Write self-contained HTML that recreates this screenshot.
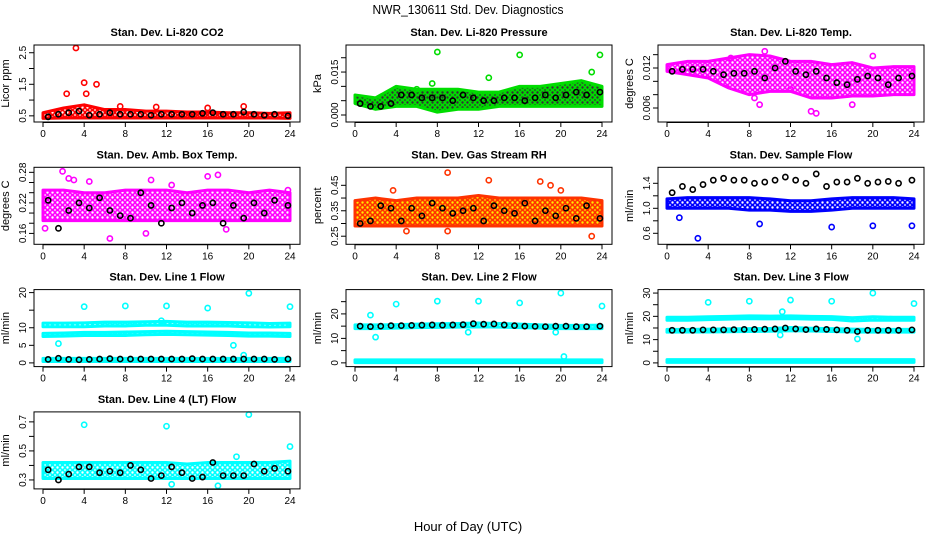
<!DOCTYPE html>
<html><head><meta charset="utf-8">
<style>
body{margin:0;background:#fff;}
svg{display:block;font-family:"Liberation Sans",sans-serif;}
</style></head>
<body>
<svg id="chart" width="936" height="540" viewBox="0 0 936 540" xmlns="http://www.w3.org/2000/svg">
<defs id="defs"></defs>
<text x="468" y="14" font-size="13" text-anchor="middle" transform="translate(468,0) scale(0.92,1) translate(-468,0)">NWR_130611  Std. Dev. Diagnostics</text>
<text x="468" y="531" font-size="13" text-anchor="middle">Hour of Day (UTC)</text>
<g id="panels"></g>
</svg>
<script>
// ---- data (band edges every 2 h, hours 0..24) ----
const bandHours = [0,2,4,6,8,10,12,14,16,18,20,22,24];
const blackHours = [0.5,1.5,2.5,3.5,4.5,5.5,6.5,7.5,8.5,9.5,10.5,11.5,12.5,13.5,14.5,15.5,16.5,17.5,18.5,19.5,20.5,21.5,22.5,23.8];
const xTicks = [0,4,8,12,16,20,24];

const co2Lo = [0.42,0.43,0.43,0.43,0.43,0.43,0.43,0.43,0.43,0.43,0.43,0.43,0.42];
const co2Hi = [0.6,0.75,0.85,0.7,0.7,0.65,0.65,0.62,0.62,0.6,0.6,0.58,0.6];
const co2Out = [[3.2,2.65],[4.0,1.55],[4.2,1.2],[5.2,1.5],[2.3,1.2],[7.5,0.8],[11,0.78],[19.5,0.8],[16,0.75]];
const co2Black = [0.47,0.55,0.6,0.65,0.52,0.55,0.6,0.55,0.55,0.55,0.52,0.55,0.55,0.55,0.55,0.58,0.6,0.55,0.55,0.62,0.55,0.52,0.55,0.5];

const presLo = [0.004,0.002,0.003,0.003,0.001,0.002,0.002,0.003,0.003,0.003,0.003,0.003,0.003];
const presHi = [0.007,0.006,0.01,0.009,0.009,0.009,0.008,0.008,0.01,0.01,0.011,0.012,0.010];
const presOut = [[8,0.022],[16,0.021],[23.8,0.021],[13,0.013],[7.5,0.011],[23,0.015],[6,0.009]];
const presBlack = [0.004,0.003,0.003,0.004,0.007,0.007,0.006,0.006,0.006,0.005,0.007,0.006,0.005,0.005,0.006,0.006,0.005,0.006,0.007,0.006,0.007,0.008,0.007,0.008];

const tempLo = [0.0115,0.011,0.0105,0.009,0.008,0.0085,0.0085,0.0075,0.0075,0.0078,0.0078,0.008,0.008];
const tempHi = [0.0125,0.013,0.013,0.0135,0.014,0.0138,0.013,0.013,0.0125,0.0128,0.012,0.0122,0.0122];
const tempOut = [[9,0.0065],[14,0.0055],[14.5,0.0052],[18,0.0065],[20,0.0138],[9.5,0.0145],[6.2,0.0135],[12,0.0088],[8.5,0.0075]];
const tempBlack = [0.0115,0.0118,0.0118,0.0118,0.0115,0.011,0.0112,0.0112,0.0115,0.0105,0.012,0.013,0.0115,0.011,0.0115,0.0105,0.0098,0.0095,0.0103,0.0108,0.0105,0.0095,0.0105,0.0108];

const boxLo = [0.185,0.185,0.185,0.185,0.185,0.185,0.185,0.185,0.185,0.185,0.185,0.185,0.185];
const boxHi = [0.245,0.245,0.24,0.24,0.245,0.245,0.245,0.24,0.245,0.245,0.24,0.245,0.24];
const boxOut = [[1.9,0.282],[2.5,0.268],[3,0.265],[4.5,0.262],[6.5,0.15],[10.5,0.265],[12.5,0.255],[16,0.272],[17,0.275],[17.8,0.168],[23.8,0.245],[0.2,0.17],[10,0.16]];
const boxBlack = [0.225,0.17,0.205,0.22,0.21,0.23,0.205,0.195,0.19,0.24,0.215,0.18,0.21,0.22,0.2,0.215,0.22,0.18,0.215,0.19,0.22,0.2,0.225,0.215];

const rhLo = [0.29,0.29,0.29,0.29,0.29,0.29,0.29,0.29,0.29,0.29,0.29,0.29,0.29];
const rhHi = [0.39,0.4,0.39,0.4,0.4,0.4,0.41,0.4,0.4,0.4,0.4,0.4,0.39];
const rhOut = [[9,0.5],[13,0.47],[18,0.465],[20,0.43],[3.7,0.43],[23,0.25],[5,0.27],[9,0.27],[19,0.45]];
const rhBlack = [0.3,0.31,0.37,0.36,0.31,0.36,0.33,0.38,0.36,0.34,0.35,0.36,0.31,0.37,0.35,0.34,0.38,0.31,0.35,0.33,0.36,0.32,0.37,0.32];

const flowLo = [1.0,1.0,1.0,1.0,0.97,0.97,0.95,0.95,0.97,1.0,1.0,1.0,1.0];
const flowHi = [1.15,1.17,1.17,1.17,1.17,1.15,1.12,1.12,1.15,1.17,1.17,1.17,1.15];
const flowOut = [[3,0.52],[16,0.7],[20,0.72],[23.8,0.72],[9,0.75],[1.2,0.85]];
const flowBlack = [1.25,1.35,1.3,1.38,1.45,1.48,1.45,1.45,1.4,1.42,1.45,1.5,1.45,1.4,1.55,1.35,1.42,1.42,1.48,1.4,1.42,1.43,1.4,1.45];

const l1Lo = [10.3,10.3,10.3,10.5,10.5,10.7,10.7,10.5,10.5,10.5,10.3,10.2,10.3];
const l1Hi = [11.3,11.3,11.4,11.6,11.6,11.7,11.8,11.6,11.6,11.5,11.4,11.2,11.3];
const l1Lo2 = [7.5,7.6,7.8,7.8,7.8,8.0,8.1,8.0,7.9,7.8,7.6,7.6,7.5];
const l1Hi2 = [8.4,8.5,8.7,8.7,8.8,8.9,9.0,8.9,8.8,8.7,8.5,8.5,8.4];
const l1Lo3 = [0.4,0.4,0.4,0.4,0.4,0.4,0.4,0.4,0.4,0.4,0.4,0.4,0.4];
const l1Hi3 = [1.3,1.3,1.3,1.3,1.3,1.3,1.3,1.3,1.3,1.3,1.3,1.3,1.3];
const l1Out = [[4,16],[8,16.2],[12,16.2],[16,15.6],[20,19.8],[24,16],[1.5,5.5],[18.5,5],[19.5,2.2],[11.5,12]];
const l1Black = [1.0,1.3,1.0,0.9,1.0,1.1,1.2,1.1,1.1,1.1,1.1,1.1,1.1,1.1,1.2,1.1,1.1,1.1,1.1,1.1,1.1,1.1,1.0,1.1];

const l2Lo = [14.0,14.0,14.2,14.4,14.5,14.6,14.7,14.6,14.4,14.2,14.0,14.0,14.0];
const l2Hi = [15.5,15.5,15.6,15.8,16.0,16.1,16.3,16.1,15.8,15.5,15.3,15.3,15.4];
const l2Lo2 = [0.1,0.1,0.1,0.1,0.1,0.1,0.1,0.1,0.1,0.1,0.1,0.1,0.1];
const l2Hi2 = [1.2,1.2,1.2,1.2,1.2,1.2,1.2,1.2,1.2,1.2,1.2,1.2,1.2];
const l2Out = [[1.5,19.5],[4,24],[8,25.2],[12,25.2],[16,24.5],[20,28.5],[24,23.2],[2,10.5],[19.5,12.5],[20.3,2.6],[11,12.5]];
const l2Black = [15.0,14.8,15.0,15.2,15.2,15.3,15.4,15.5,15.4,15.5,15.6,16.0,15.8,15.9,15.5,15.2,15.0,14.9,14.8,15.0,15.0,14.8,14.8,15.0];

const l3Lo = [18.3,18.3,18.6,18.8,19.0,18.9,19.0,18.8,18.7,18.0,18.4,18.3,18.3];
const l3Hi = [19.6,19.6,19.8,20.0,20.2,20.1,20.2,20.0,19.9,19.4,19.8,19.6,19.6];
const l3Lo2 = [13.2,13.3,13.3,13.4,13.5,13.6,13.8,13.7,13.5,13.3,13.2,13.2,13.2];
const l3Hi2 = [14.4,14.4,14.5,14.6,14.7,14.8,15.2,14.9,14.7,14.5,14.4,14.4,14.4];
const l3Lo3 = [0.2,0.2,0.2,0.2,0.2,0.2,0.2,0.2,0.2,0.2,0.2,0.2,0.2];
const l3Hi3 = [1.4,1.4,1.4,1.4,1.4,1.4,1.4,1.4,1.4,1.4,1.4,1.4,1.4];
const l3Out = [[4,26],[8,26.5],[12,27],[16,26.5],[20,30],[24,25.5],[18.5,10.3],[11,12],[11.2,22]];
const l3Black = [14.0,14.0,14.0,14.2,14.2,14.2,14.3,14.4,14.4,14.5,14.6,15.0,14.6,14.3,14.6,14.4,14.2,14.0,13.5,14.0,14.0,14.0,14.0,14.2];

const l4Lo = [0.31,0.31,0.31,0.31,0.31,0.31,0.31,0.31,0.31,0.31,0.31,0.31,0.31];
const l4Hi = [0.42,0.42,0.42,0.42,0.42,0.42,0.42,0.41,0.42,0.42,0.42,0.42,0.43];
const l4Out = [[4,0.68],[12,0.67],[20,0.75],[24,0.53],[17,0.26],[12.5,0.27],[18.8,0.46]];
const l4Black = [0.37,0.3,0.34,0.39,0.39,0.35,0.36,0.35,0.4,0.37,0.31,0.33,0.39,0.35,0.31,0.32,0.42,0.33,0.33,0.33,0.41,0.36,0.38,0.36];

const titles = ["Stan. Dev. Li-820 CO2","Stan. Dev. Li-820 Pressure","Stan. Dev. Li-820 Temp.","Stan. Dev. Amb. Box Temp.","Stan. Dev. Gas Stream RH","Stan. Dev. Sample Flow","Stan. Dev. Line 1 Flow","Stan. Dev. Line 2 Flow","Stan. Dev. Line 3 Flow","Stan. Dev. Line 4 (LT) Flow"];
const yTitles = ["Licor ppm","kPa","degrees C","degrees C","percent","ml/min","ml/min","ml/min","ml/min","ml/min"];

const panels = [
 {lo:0.4,hi:2.65,ticks:[0.5,1,1.5,2,2.5],labels:["0.5","","1.5","","2.5"],color:"#ff0000",bg:"#ffffff",bands:[[co2Lo,co2Hi]],out:co2Out,black:co2Black},
 {lo:-0.0014,hi:0.0234,ticks:[0,0.005,0.01,0.015,0.02],labels:["0.000","","","0.015",""],color:"#00dd00",bg:"#333333",bands:[[presLo,presHi]],out:presOut,black:presBlack},
 {lo:0.00435,hi:0.015,ticks:[0.006,0.008,0.01,0.012,0.014],labels:["0.006","","","0.012",""],color:"#ff00ff",bg:"#ffffff",bands:[[tempLo,tempHi]],out:tempOut,black:tempBlack},
 {lo:0.1445,hi:0.284,ticks:[0.16,0.18,0.2,0.22,0.24,0.26,0.28],labels:["0.16","","","0.22","","","0.28"],color:"#ff00ff",bg:"#ffffff",bands:[[boxLo,boxHi]],out:boxOut,black:boxBlack},
 {lo:0.23,hi:0.509,ticks:[0.25,0.3,0.35,0.4,0.45],labels:["0.25","","0.35","","0.45"],color:"#ff3300",bg:"#ffee00",bands:[[rhLo,rhHi]],out:rhOut,black:rhBlack},
 {lo:0.472,hi:1.608,ticks:[0.6,0.8,1.0,1.2,1.4],labels:["0.6","","1.0","","1.4"],color:"#0000ff",bg:"#ffffff",bands:[[flowLo,flowHi]],out:flowOut,black:flowBlack},
 {lo:-0.2,hi:20,ticks:[0,5,10,15,20],labels:["0","5","10","","20"],color:"#00ffff",bg:"#ffffff",bands:[[l1Lo,l1Hi],[l1Lo2,l1Hi2],[l1Lo3,l1Hi3]],out:l1Out,black:l1Black},
 {lo:-0.3,hi:28.7,ticks:[0,5,10,15,20,25],labels:["0","","10","","20",""],color:"#00ffff",bg:"#ffffff",bands:[[l2Lo,l2Hi],[l2Lo2,l2Hi2]],out:l2Out,black:l2Black},
 {lo:-0.3,hi:30.2,ticks:[0,5,10,15,20,25,30],labels:["0","","10","","20","","30"],color:"#00ffff",bg:"#ffffff",bands:[[l3Lo,l3Hi],[l3Lo2,l3Hi2],[l3Lo3,l3Hi3]],out:l3Out,black:l3Black},
 {lo:0.259,hi:0.748,ticks:[0.3,0.4,0.5,0.6,0.7],labels:["0.3","","0.5","","0.7"],color:"#00ffff",bg:"#ffffff",bands:[[l4Lo,l4Hi]],out:l4Out,black:l4Black}
];

const NS="http://www.w3.org/2000/svg";
const root=document.getElementById('panels');
const defs=document.getElementById('defs');
function mk(tag,attrs,parent){const e=document.createElementNS(NS,tag);for(const k in attrs)e.setAttribute(k,attrs[k]);parent.appendChild(e);return e;}

panels.forEach((p,i)=>{
 const col=i%3,row=Math.floor(i/3);
 const bx=34+col*312,by=45+row*122.3,bw=266,bh=77;
 const xs=h=>bx+9+h*247/24;
 const ys=v=>by+74-(v-p.lo)/(p.hi-p.lo)*71;
 // texture pattern made of small open circles
 const pat=mk('pattern',{id:'pat'+i,width:5,height:5,patternUnits:'userSpaceOnUse'},defs);
 mk('rect',{x:0,y:0,width:5,height:5,fill:p.bg},pat);
 mk('circle',{cx:2.5,cy:2.5,r:2,fill:'none',stroke:p.color,'stroke-width':1.6},pat);
 const g=mk('g',{},root);
 
 
 const t=mk('text',{x:bx+bw/2,y:by-9,'font-size':11,'font-weight':'bold','text-anchor':'middle'},g);
 t.textContent=titles[i];
 
 
 const yt=mk('text',{x:0,y:0,'font-size':11,'text-anchor':'middle',transform:`translate(${bx-25},${by+bh/2}) rotate(-90)`},g);
 yt.textContent=yTitles[i];
 
 
 p.bands.forEach(b=>{
  let d='M'+bandHours.map((h,k)=>xs(h)+','+ys(b[1][k])).join(' L');
  d+=' L'+bandHours.slice().reverse().map((h,k)=>xs(h)+','+ys(b[0][12-k])).join(' L')+'Z';
  const band=mk('path',{d:d,fill:'url(#pat'+i+')',stroke:p.color,'stroke-width':3,'stroke-linejoin':'round'},g);
  
  
 });
 p.out.forEach(o=>{
  const c=mk('circle',{cx:xs(o[0]),cy:ys(o[1]),r:2.6,fill:'none',stroke:p.color,'stroke-width':1.6},g);
  
  
 });
 p.black.forEach((v,k)=>{
  const c=mk('circle',{cx:xs(blackHours[k]),cy:ys(v),r:2.6,fill:'none',stroke:'#000','stroke-width':1.6},g);
  
  
 });
 const box=mk('rect',{x:bx,y:by,width:bw,height:bh,fill:'none',stroke:'#000','stroke-width':1},g);
 
 
 xTicks.forEach(h=>{
  mk('line',{x1:xs(h),x2:xs(h),y1:by+bh,y2:by+bh+5,stroke:'#000'},g);
  const tl=mk('text',{x:xs(h),y:by+bh+15,'font-size':10,'text-anchor':'middle'},g);
  tl.textContent=h;
  
  
 });
 mk('line',{x1:xs(0),x2:xs(24),y1:by+bh+0.5,y2:by+bh+0.5,stroke:'#000'},g);
 p.ticks.forEach((v,k)=>{
  mk('line',{x1:bx-5,x2:bx,y1:ys(v),y2:ys(v),stroke:'#000'},g);
  if(p.labels[k]){
   const tl=mk('text',{x:0,y:0,'font-size':10,'text-anchor':'middle',transform:`translate(${bx-8},${ys(v)}) rotate(-90)`},g);
   tl.textContent=p.labels[k];
   
   
  }
 });
});
</script>
</body></html>
